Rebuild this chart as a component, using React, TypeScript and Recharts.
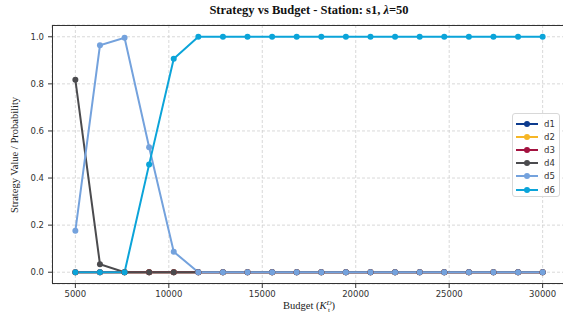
import { LineChart, Line, XAxis, YAxis, CartesianGrid } from 'recharts';

const budgets = [
  5000, 6316, 7632, 8947, 10263, 11579, 12895, 14211, 15526, 16842,
  18158, 19474, 20789, 22105, 23421, 24737, 26053, 27368, 28684, 30000,
];
const d1 = [0, 0, 0, 0, 0, 0, 0, 0, 0, 0, 0, 0, 0, 0, 0, 0, 0, 0, 0, 0];
const d2 = [0, 0, 0, 0, 0, 0, 0, 0, 0, 0, 0, 0, 0, 0, 0, 0, 0, 0, 0, 0];
const d3 = [0, 0, 0, 0, 0, 0, 0, 0, 0, 0, 0, 0, 0, 0, 0, 0, 0, 0, 0, 0];
const d4 = [0.817, 0.034, 0, 0, 0, 0, 0, 0, 0, 0, 0, 0, 0, 0, 0, 0, 0, 0, 0, 0];
const d5 = [0.176, 0.964, 0.996, 0.531, 0.087, 0, 0, 0, 0, 0, 0, 0, 0, 0, 0, 0, 0, 0, 0, 0];
const d6 = [0, 0, 0, 0.458, 0.907, 1, 1, 1, 1, 1, 1, 1, 1, 1, 1, 1, 1, 1, 1, 1];

const xTicks = [5000, 10000, 15000, 20000, 25000, 30000];
const yTicks = [0, 0.2, 0.4, 0.6, 0.8, 1.0];

const series = [
  { key: 'd1', values: d1, color: '#0d3b8e' },
  { key: 'd2', values: d2, color: '#f6b626' },
  { key: 'd3', values: d3, color: '#a3123f' },
  { key: 'd4', values: d4, color: '#4b4b4e' },
  { key: 'd5', values: d5, color: '#74a2dd' },
  { key: 'd6', values: d6, color: '#0ba4d9' },
];

const data = budgets.map((b, i) => {
  const row: Record<string, number> = { budget: b };
  series.forEach((s) => (row[s.key] = s.values[i]));
  return row;
});

const serif = '"Liberation Serif", "Times New Roman", serif';
const sans = '"DejaVu Sans", sans-serif';

function LegendBox() {
  return (
    <div
      style={{
        position: 'absolute',
        left: 512,
        top: 113,
        width: 48,
        height: 84,
        background: 'rgba(255,255,255,0.85)',
        border: '1px solid #d8d8d8',
        borderRadius: 3,
        boxSizing: 'border-box',
        padding: '3px 0 0 2px',
      }}
    >
      {series.map((s) => (
        <div key={s.key} style={{ display: 'flex', alignItems: 'center', height: 13.2 }}>
          <svg width={24} height={10}>
            <line x1={1} y1={5} x2={23} y2={5} stroke={s.color} strokeWidth={2} />
            <circle cx={12} cy={5} r={3} fill={s.color} />
          </svg>
          <span style={{ fontFamily: sans, fontSize: 8.5, color: '#333', marginLeft: 5 }}>{s.key}</span>
        </div>
      ))}
    </div>
  );
}

export default function App() {
  return (
    <div style={{ position: 'absolute', left: 0, top: 0, width: 563, height: 323, overflow: 'hidden', background: '#fff' }}>
      <div
        style={{
          position: 'absolute',
          left: 0,
          width: 618,
          top: 3,
          textAlign: 'center',
          fontFamily: serif,
          fontWeight: 'bold',
          fontSize: 12.5,
          color: '#111',
        }}
      >
        Strategy vs Budget - Station: s1, <i>λ</i>=50
      </div>

      <LineChart width={580} height={323} data={data} margin={{ top: 25, right: 14, bottom: 10, left: 0 }}>
        <CartesianGrid stroke="#cfcfcf" strokeDasharray="3 2" strokeWidth={0.8} />
        <XAxis
          dataKey="budget"
          type="number"
          domain={[3750, 31250]}
          ticks={xTicks}
          tickSize={4}
          tickMargin={3}
          height={29}
          axisLine={false}
          tickLine={{ stroke: '#333' }}
          tick={{ fontFamily: sans, fontSize: 8.5, fill: '#333' }}
        />
        <YAxis
          type="number"
          domain={[-0.05, 1.05]}
          ticks={yTicks}
          tickFormatter={(v: number) => v.toFixed(1)}
          width={52}
          tickSize={4}
          tickMargin={4}
          axisLine={false}
          tickLine={{ stroke: '#333' }}
          tick={{ fontFamily: sans, fontSize: 8.5, fill: '#333' }}
        />
        {series.map((s) => (
          <Line
            key={s.key}
            dataKey={s.key}
            stroke={s.color}
            strokeWidth={2}
            dot={{ r: 3, fill: s.color, stroke: s.color, strokeWidth: 0 }}
            activeDot={false}
            isAnimationActive={false}
          />
        ))}
      </LineChart>

      <div
        style={{
          position: 'absolute',
          left: 52,
          top: 25,
          width: 514,
          height: 259,
          border: '1px solid #333',
          boxSizing: 'border-box',
          pointerEvents: 'none',
        }}
      />

      <div
        style={{
          position: 'absolute',
          left: 17 - 80,
          top: 155 - 8,
          width: 160,
          height: 16,
          transform: 'rotate(-90deg)',
          textAlign: 'center',
          fontFamily: serif,
          fontSize: 10.5,
          color: '#222',
          whiteSpace: 'nowrap',
        }}
      >
        Strategy Value / Probability
      </div>

      <div
        style={{
          position: 'absolute',
          left: 209,
          top: 300,
          width: 200,
          textAlign: 'center',
          fontFamily: serif,
          fontSize: 10.5,
          color: '#222',
          whiteSpace: 'nowrap',
        }}
      >
        Budget (<i>K</i>
        <span style={{ display: 'inline-flex', flexDirection: 'column', verticalAlign: 'middle', fontSize: 7, lineHeight: '7px' }}>
          <i>D</i>
          <span>t</span>
        </span>
        )
      </div>

      <LegendBox />
    </div>
  );
}
